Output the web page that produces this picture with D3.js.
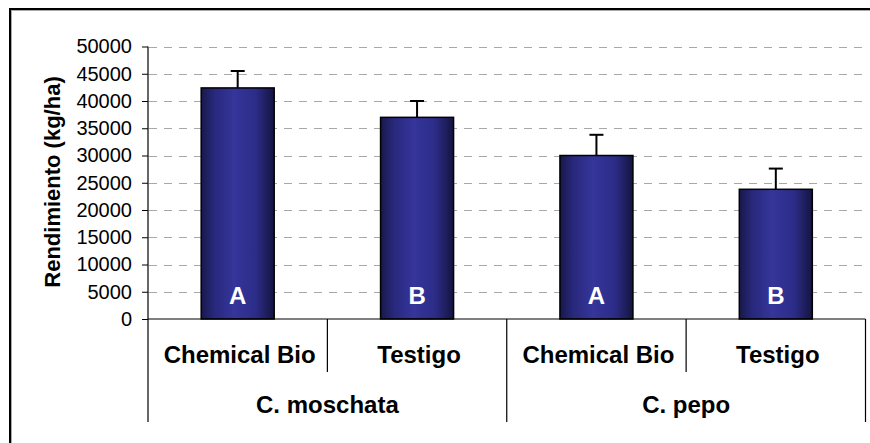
<!DOCTYPE html>
<html lang="en">
<head>
    <meta charset="UTF-8">
    <title>Rendimiento</title>
    <script src="https://d3js.org/d3.v7.min.js"></script>
    <style>
        body { margin: 0; background: #fff; }
        svg { display: block; font-family: "Liberation Sans", Arial, sans-serif; }
    </style>
</head>
<body>
<div id="chart-div"></div>
<script type="text/javascript">
    // data
    const groups = ["C. moschata", "C. pepo"];
    const treatments = ["Chemical Bio", "Testigo"];
    const values = [42400, 37000, 30000, 23800];
    const errors = [3100, 3000, 3800, 3800];
    const letters = ["A", "B", "A", "B"];
    const yTicks = [0, 5000, 10000, 15000, 20000, 25000, 30000, 35000, 40000, 45000, 50000];
    const yTitle = "Rendimiento (kg/ha)";

    const chartWidth = 870, chartHeight = 443;
    const margin = {top: 46.5, left: 148, right: 4.5, bottom: 124};
    const plotBottom = chartHeight - margin.bottom;   // zero line

    // one slot per bar, groups hold two slots each
    const bars = [];
    groups.forEach((g, gi) => treatments.forEach((t, ti) => {
        const i = gi * treatments.length + ti;
        bars.push({group: g, name: t, value: values[i], err: errors[i], letter: letters[i], i: i});
    }));

    const x = d3.scaleBand()
        .domain(bars.map(d => d.i))
        .range([margin.left, chartWidth - margin.right])
        .padding(0);
    const barW = x.bandwidth() * 0.407;

    const y = d3.scaleLinear()
        .domain([0, 50000])
        .range([plotBottom, margin.top]);

    const svg = d3.select("#chart-div").append("svg")
        .attr("width", chartWidth)
        .attr("height", chartHeight);

    // gradient for the bars, dark edges and lighter middle
    const grad = svg.append("defs").append("linearGradient")
        .attr("id", "barGrad")
        .attr("x1", "0%").attr("x2", "100%").attr("y1", "0%").attr("y2", "0%");
    [[0, "#18184a"], [0.18, "#28287c"], [0.45, "#35359b"], [0.75, "#2c2c88"], [1, "#141440"]]
        .forEach(s => grad.append("stop").attr("offset", s[0]).attr("stop-color", s[1]));

    // outer frame (runs past the window on right and bottom)
    svg.append("rect")
        .attr("x", 11).attr("y", 10)
        .attr("width", 900).attr("height", 500)
        .attr("fill", "none")
        .attr("stroke", "#aaa")
        .attr("stroke-width", 2);
    svg.append("rect")
        .attr("x", 10).attr("y", 9)
        .attr("width", 900).attr("height", 500)
        .attr("fill", "none")
        .attr("stroke", "#000")
        .attr("stroke-width", 2);

    // dashed grid
    svg.append("g")
        .selectAll("line")
        .data(yTicks.filter(d => d > 0))
        .join("line")
        .attr("x1", margin.left + 1)
        .attr("x2", chartWidth - margin.right - 2)
        .attr("y1", d => Math.round(y(d)) + 0.5)
        .attr("y2", d => Math.round(y(d)) + 0.5)
        .attr("stroke", "#a8a8a8")
        .attr("stroke-width", 1.2)
        .attr("stroke-dasharray", "8,7");

    // y axis
    const yAxis = g => g
        .attr("transform", `translate(${margin.left},0)`)
        .call(d3.axisLeft(y).tickValues(yTicks).tickSize(6).tickPadding(10).tickFormat(d3.format("d")))
        .call(g => g.select(".domain").remove())
        .call(g => g.selectAll(".tick line").attr("stroke", "#000"))
        .call(g => g.selectAll(".tick text")
            .attr("font-size", 20)
            .attr("fill", "#000")
            .attr("font-family", "'Liberation Sans', Arial, sans-serif"));
    svg.append("g").call(yAxis);

    svg.append("text")
        .attr("transform", "translate(60,182) rotate(-90)")
        .attr("text-anchor", "middle")
        .attr("font-size", 22)
        .attr("font-weight", "bold")
        .text(yTitle);

    // bars
    svg.append("g")
        .selectAll("rect")
        .data(bars)
        .join("rect")
        .attr("x", d => x(d.i) + (x.bandwidth() - barW) / 2)
        .attr("width", barW)
        .attr("y", d => y(d.value))
        .attr("height", d => y(0) - y(d.value))
        .attr("fill", "url(#barGrad)")
        .attr("stroke", "#000")
        .attr("stroke-width", 1.5);

    // error bars (upper only)
    const eb = svg.append("g")
        .attr("stroke", "#000")
        .attr("stroke-width", 2)
        .selectAll("g")
        .data(bars)
        .join("g");
    eb.append("line")
        .attr("x1", d => x(d.i) + x.bandwidth() / 2)
        .attr("x2", d => x(d.i) + x.bandwidth() / 2)
        .attr("y1", d => y(d.value))
        .attr("y2", d => y(d.value + d.err));
    eb.append("line")
        .attr("x1", d => x(d.i) + x.bandwidth() / 2 - 7)
        .attr("x2", d => x(d.i) + x.bandwidth() / 2 + 7)
        .attr("y1", d => y(d.value + d.err))
        .attr("y2", d => y(d.value + d.err));

    // letters inside bars
    svg.append("g")
        .selectAll("text")
        .data(bars)
        .join("text")
        .attr("x", d => x(d.i) + x.bandwidth() / 2)
        .attr("y", plotBottom - 15)
        .attr("text-anchor", "middle")
        .attr("font-size", 24)
        .attr("font-weight", "bold")
        .attr("fill", "#fff")
        .text(d => d.letter);

    // axis lines
    const axisG = svg.append("g")
        .attr("stroke", "#000")
        .attr("stroke-width", 1.2);
    axisG.append("line")
        .attr("x1", margin.left).attr("x2", margin.left)
        .attr("y1", margin.top).attr("y2", 422);
    axisG.append("line")
        .attr("x1", margin.left).attr("x2", chartWidth - margin.right)
        .attr("y1", plotBottom).attr("y2", plotBottom);

    // separators: short between treatments, long between groups
    axisG.selectAll("line.sep")
        .data(bars)
        .join("line")
        .attr("class", "sep")
        .attr("x1", d => x(d.i) + x.bandwidth())
        .attr("x2", d => x(d.i) + x.bandwidth())
        .attr("y1", plotBottom)
        .attr("y2", d => (d.i % treatments.length === treatments.length - 1) ? 422 : 372);

    // category labels
    svg.append("g")
        .selectAll("text")
        .data(bars)
        .join("text")
        .attr("x", d => x(d.i) + x.bandwidth() / 2 + 2)
        .attr("y", 363)
        .attr("text-anchor", "middle")
        .attr("font-size", 24)
        .attr("font-weight", "bold")
        .text(d => d.name);

    // group labels
    svg.append("g")
        .selectAll("text")
        .data(groups)
        .join("text")
        .attr("x", (d, gi) => x(gi * treatments.length) + x.bandwidth())
        .attr("y", 413)
        .attr("text-anchor", "middle")
        .attr("font-size", 24)
        .attr("font-weight", "bold")
        .text(d => d);
</script>
</body>
</html>
